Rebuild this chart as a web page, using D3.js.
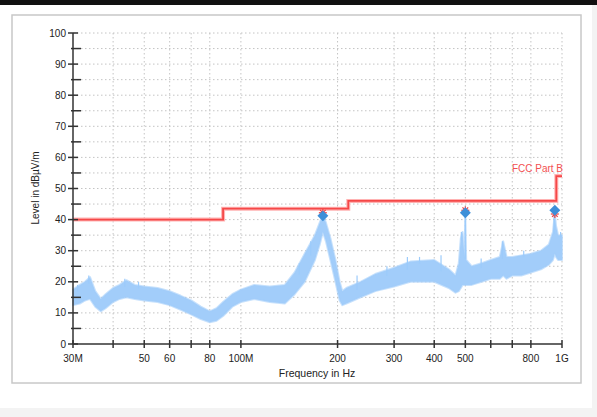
<!DOCTYPE html>
<html>
<head>
<meta charset="utf-8">
<script src="https://cdn.jsdelivr.net/npm/d3@7"></script>
<style>
  html, body { margin: 0; padding: 0; background: #f3f3f3; }
  svg { display: block; font-family: "Liberation Sans", Arial, sans-serif; }
</style>
</head>
<body>
<div id="chart"></div>
<script>
// measured noise band: frequency in MHz, lower / upper level in dBuV/m
const bandFreq = [30, 31.5, 32.7, 33.9, 35.2, 36.6, 37.9, 40, 41.9, 44, 46.7, 50, 55, 60, 65, 70, 75, 80, 84, 88, 94, 100, 110, 123, 137, 147, 158, 170, 176, 180, 184, 190, 197, 203, 207, 213, 236, 262, 300, 337, 400, 444, 466, 477, 484, 490, 497, 500, 503, 523, 562, 600, 640, 656, 672, 700, 747, 800, 860, 910, 937, 950, 958, 972, 1000];
const bandLow  = [12.5, 13, 14, 14.5, 12, 10.5, 11.5, 13.5, 14.5, 15, 14.5, 14, 13.5, 12.5, 11, 9.5, 8, 7, 7.5, 9, 12, 13.5, 14.5, 13.5, 13, 16, 20, 27, 32, 36, 33, 27, 20, 14, 12.5, 13, 15, 17, 18.5, 20, 20, 18, 16.5, 17, 18, 19, 19, 19, 19, 19, 20, 21, 21, 22, 21, 22, 22, 23, 24, 25.5, 27, 29, 28, 27, 27];
const bandHigh = [17.5, 19, 20, 21.5, 17, 14.5, 16, 18, 19, 20.5, 19, 18.5, 18, 17, 15.5, 14, 12, 10.5, 11.5, 13.5, 16, 17.5, 19, 18.5, 19, 23, 29, 35, 39, 41.5, 39, 34, 27, 20, 17, 18, 20, 22.5, 24.5, 26.5, 27, 24, 22, 26, 34, 36, 28, 42, 27, 25, 26, 27, 28, 33, 28, 28, 28.5, 29, 30, 32, 36, 42, 38, 35, 35];

// single spikes standing out of the band
const spikeFreq  = [31, 33.6, 43.5, 48, 152, 165, 230, 285, 330, 360, 420, 486, 500, 560, 652, 760, 945, 990];
const spikeLevel = [19, 22, 21, 20, 26, 33, 22, 25, 28, 28, 28.5, 36, 42, 27.5, 33, 30, 42, 36];

// FCC Part B limit steps
const limitFreq  = [30, 88, 88, 216, 216, 960, 960, 1000];
const limitLevel = [40, 40, 43.5, 43.5, 46, 46, 54, 54];

// final measurement points
const peakFreq   = [180, 500, 950];
const peakLevel  = [41.2, 42.2, 43];
const limMarkLvl = [42.2, 43, 41.8];

const xTicks = [30, 40, 50, 60, 70, 80, 100, 200, 300, 400, 500, 600, 700, 800, 1000];
const xTickLabels = ["30M", "", "50", "60", "", "80", "100M", "200", "300", "400", "500", "", "", "800", "1G"];
const yTicks = [0, 10, 20, 30, 40, 50, 60, 70, 80, 90, 100];
const yMinor = [5, 15, 25, 35, 45, 55, 65, 75, 85, 95];

const W = 597, H = 417;
const svg = d3.select("#chart").append("svg").attr("width", W).attr("height", H);

// page / card background
svg.append("rect").attr("width", W).attr("height", H).attr("fill", "#f3f3f3");
svg.append("rect").attr("x", 0).attr("y", 0).attr("width", W).attr("height", 5).attr("fill", "#111");
svg.append("rect").attr("x", 0).attr("y", 5).attr("width", 592).attr("height", 403).attr("fill", "#fff");
svg.append("rect").attr("x", 12).attr("y", 15).attr("width", 569).attr("height", 368)
    .attr("fill", "#fff").attr("stroke", "#c8c8c8").attr("stroke-width", 1.5);

const x = d3.scaleLog().domain([30, 1000]).range([73, 562]);
const y = d3.scaleLinear().domain([0, 100]).range([344, 33]);

// grid
const grid = svg.append("g").attr("stroke", "#c4c4c4").attr("stroke-dasharray", "1.5,2.5").attr("stroke-width", 1);
yTicks.concat(yMinor).filter(v => v > 0).forEach(v => {
    grid.append("line").attr("x1", 73).attr("x2", 562).attr("y1", y(v)).attr("y2", y(v));
});
xTicks.filter(v => v > 30).forEach(v => {
    grid.append("line").attr("x1", x(v)).attr("x2", x(v)).attr("y1", 33).attr("y2", 344);
});

// noise band
const bandData = bandFreq.map((f, i) => ({f: f, lo: bandLow[i], hi: bandHigh[i]}));
const area = d3.area().x(d => x(d.f)).y0(d => y(d.lo)).y1(d => y(d.hi));
svg.append("path").datum(bandData).attr("d", area)
    .attr("fill", "#a2cdfa").attr("stroke", "#a2cdfa").attr("stroke-opacity", 0.6)
    .attr("stroke-width", 2).attr("stroke-linejoin", "round");

// spikes rise from the band's upper edge
const upperAt = f => {
    const i = d3.bisectLeft(bandFreq, f);
    return d3.min([bandHigh[Math.max(0, i - 1)], bandHigh[Math.min(bandFreq.length - 1, i)]]);
};
svg.append("g").selectAll("line").data(spikeFreq).join("line")
    .attr("x1", d => x(d)).attr("x2", d => x(d))
    .attr("y1", (d, i) => y(spikeLevel[i]))
    .attr("y2", d => y(upperAt(d)) + 2)
    .attr("stroke", "#9ccbfb").attr("stroke-width", 1.2);

// limit line
const limitData = limitFreq.map((f, i) => ({f: f, v: limitLevel[i]}));
const limitLine = d3.line().x(d => x(d.f)).y(d => y(d.v));
svg.append("path").datum(limitData).attr("d", limitLine)
    .attr("fill", "none").attr("stroke", "#ffb3b3").attr("stroke-width", 4);
svg.append("path").datum(limitData).attr("d", limitLine)
    .attr("fill", "none").attr("stroke", "#f54848").attr("stroke-width", 1.8);
svg.append("text").attr("x", 563).attr("y", 172).attr("text-anchor", "end")
    .attr("font-size", 10).attr("fill", "#f35050").text("FCC Part B");

// markers
peakFreq.forEach((f, i) => {
    const g = svg.append("g").attr("transform", `translate(${x(f)},${y(limMarkLvl[i])})`);
    [0, 45, 90, 135].forEach(a => {
        g.append("line").attr("x1", -4).attr("x2", 4).attr("y1", 0).attr("y2", 0)
            .attr("transform", `rotate(${a})`).attr("stroke", "#f04040").attr("stroke-width", 1.2);
    });
});
svg.append("g").selectAll("path").data(peakFreq).join("path")
    .attr("d", d3.symbol(d3.symbolSquare, 60))
    .attr("transform", (d, i) => `translate(${x(d)},${y(peakLevel[i])}) rotate(45)`)
    .attr("fill", "#3d8fd8");

// axes
const axis = svg.append("g").attr("stroke", "#333").attr("stroke-width", 1.5);
axis.append("line").attr("x1", 73).attr("x2", 73).attr("y1", 33).attr("y2", 344);
axis.append("line").attr("x1", 73).attr("x2", 562).attr("y1", 344).attr("y2", 344);
yTicks.forEach(v => axis.append("line").attr("x1", 68).attr("x2", 78).attr("y1", y(v)).attr("y2", y(v)));
yMinor.forEach(v => axis.append("line").attr("x1", 71).attr("x2", 81).attr("y1", y(v)).attr("y2", y(v)));
xTicks.forEach(v => axis.append("line").attr("x1", x(v)).attr("x2", x(v)).attr("y1", 340).attr("y2", 348));

svg.append("g").selectAll("text").data(yTicks).join("text")
    .attr("x", 66).attr("y", d => y(d) + 3.5).attr("text-anchor", "end")
    .attr("font-size", 10).attr("fill", "#222").text(d => d);
svg.append("g").selectAll("text").data(xTicks).join("text")
    .attr("x", d => x(d)).attr("y", 362).attr("text-anchor", "middle")
    .attr("font-size", 10).attr("fill", "#222").text((d, i) => xTickLabels[i]);

svg.append("text").attr("x", 317).attr("y", 377).attr("text-anchor", "middle")
    .attr("font-size", 10.5).attr("fill", "#222").text("Frequency in Hz");
svg.append("text").attr("transform", "translate(39,188) rotate(-90)").attr("text-anchor", "middle")
    .attr("font-size", 10).attr("fill", "#222").text("Level in dBµV/m");
</script>
</body>
</html>
